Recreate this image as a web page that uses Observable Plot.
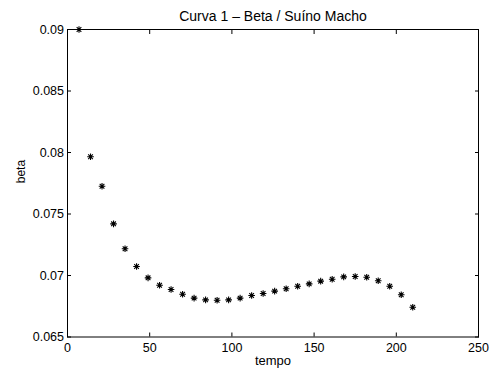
<!DOCTYPE html>
<html><head><meta charset="utf-8">
<script src="https://cdn.jsdelivr.net/npm/d3@7"></script>
<script src="https://cdn.jsdelivr.net/npm/@observablehq/plot@0.6"></script>
<style>body{margin:0;background:#fff} svg{display:block}</style>
</head><body><div id="chart"></div>
<script>
const tempo = [7,14,21,28,35,42,49,56,63,70,77,84,91,98,105,112,119,126,133,140,147,154,161,168,175,182,189,196,203,210];
const beta = [0.0900,0.07965,0.07726,0.0742,0.07217,0.07073,0.06981,0.06921,0.06886,0.06848,0.06816,0.06802,0.06799,0.06802,0.06816,0.06837,0.06854,0.06873,0.06892,0.06913,0.06932,0.06954,0.0697,0.06989,0.06992,0.06986,0.06957,0.06913,0.06843,0.06742];
const xTicks = [0,50,100,150,200,250];
const yTicks = [0.065,0.07,0.075,0.08,0.085,0.09];
const title = "Curva 1 – Beta / Suíno Macho";
const xLabel = "tempo";
const yLabel = "beta";

const data = tempo.map((t, i) => ({tempo: t, beta: beta[i]}));
const asterisk = {
  draw(ctx, size) {
    const r = Math.sqrt(size / Math.PI), d = r * Math.SQRT1_2;
    ctx.moveTo(-r, 0); ctx.lineTo(r, 0);
    ctx.moveTo(0, -r); ctx.lineTo(0, r);
    ctx.moveTo(-d, -d); ctx.lineTo(d, d);
    ctx.moveTo(-d, d); ctx.lineTo(d, -d);
  }
};
const font = "Liberation Sans, Arial, Helvetica, sans-serif";
const fmtY = d => String(+d.toFixed(3));

const chart = Plot.plot({
  width: 491, height: 370,
  marginLeft: 67, marginRight: 13, marginTop: 29, marginBottom: 33.5,
  style: {fontFamily: font, fontSize: "12.5px", background: "#fff", color: "#000"},
  x: {domain: [0, 250]},
  y: {domain: [0.065, 0.09]},
  marks: [
    Plot.frame({stroke: "#000", strokeWidth: 1}),
    Plot.axisX({anchor: "bottom", ticks: xTicks, tickSize: -4, text: null, label: null}),
    Plot.axisX({anchor: "top", ticks: xTicks, tickSize: -4, text: null, label: null}),
    Plot.axisY({anchor: "left", ticks: yTicks, tickSize: -4, text: null, label: null}),
    Plot.axisY({anchor: "right", ticks: yTicks, tickSize: -4, text: null, label: null}),
    Plot.axisX({anchor: "bottom", ticks: xTicks, tickSize: 0, tickPadding: 6.5, label: null, fontSize: 12.5}),
    Plot.axisY({anchor: "left", ticks: yTicks, tickSize: 0, tickPadding: 3.5, label: null, tickFormat: fmtY, fontSize: 12.5}),
    Plot.dot(data, {x: "tempo", y: "beta", symbol: asterisk, r: 3.3, fill: "none", stroke: "#000", strokeWidth: 1.1}),
    Plot.text([title], {frameAnchor: "top", lineAnchor: "middle", dy: -12.8, text: d => d, fontSize: 14}),
    Plot.text([xLabel], {frameAnchor: "bottom", lineAnchor: "middle", dy: 24, text: d => d, fontSize: 13}),
    Plot.text([yLabel], {frameAnchor: "left", lineAnchor: "middle", dx: -46.4, rotate: -90, text: d => d, fontSize: 12})
  ]
});
document.getElementById("chart").appendChild(chart);
</script>
</body></html>
